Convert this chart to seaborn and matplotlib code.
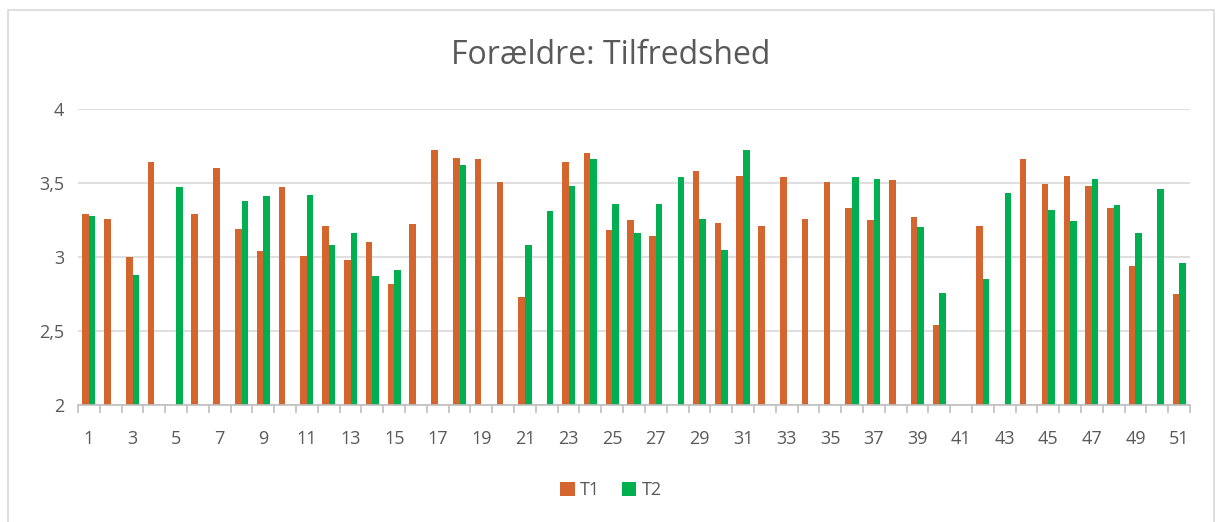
import numpy as np
import pandas as pd
import matplotlib
matplotlib.use("Agg")
from matplotlib import pyplot as plt
from matplotlib.patches import Rectangle
from matplotlib.ticker import FixedLocator
import seaborn as sns

sns.set_style("white")
plt.rcParams['font.family'] = ['Open Sans', 'DejaVu Sans']

nan = np.nan
categories = [str(i) for i in range(1, 52)]
t1 = [3.29, 3.26, 3.00, 3.64, nan, 3.29, 3.60, 3.19, 3.04, 3.47,
      3.01, 3.21, 2.98, 3.10, 2.82, 3.22, 3.72, 3.67, 3.66, 3.51,
      2.73, nan, 3.64, 3.70, 3.18, 3.25, 3.14, nan, 3.58, 3.23,
      3.55, 3.21, 3.54, 3.26, 3.51, 3.33, 3.25, 3.52, 3.27, 2.54,
      nan, 3.21, nan, 3.66, 3.49, 3.55, 3.48, 3.33, 2.94, nan,
      2.75]
t2 = [3.28, nan, 2.88, nan, 3.47, nan, nan, 3.38, 3.41, nan,
      3.42, 3.08, 3.16, 2.87, 2.91, nan, nan, 3.62, nan, nan,
      3.08, 3.31, 3.48, 3.66, 3.36, 3.16, 3.36, 3.54, 3.26, 3.05,
      3.72, nan, nan, nan, nan, 3.54, 3.53, nan, 3.20, 2.76,
      nan, 2.85, 3.43, nan, 3.32, 3.24, 3.53, 3.35, 3.16, 3.46,
      2.96]
series = ["T1", "T2"]
colors = ["#D4652F", "#00B050"]

df = pd.DataFrame({
    "kategori": categories * 2,
    "vaerdi": t1 + t2,
    "serie": ["T1"] * len(categories) + ["T2"] * len(categories),
})

fig = plt.figure(figsize=(12.22, 5.22), dpi=100)
ax = fig.add_axes([78 / 1222, 117 / 522, 1112 / 1222, 296 / 522])

sns.barplot(data=df, x="kategori", y="vaerdi", hue="serie", order=categories,
            hue_order=series, palette=colors, width=0.6, errorbar=None,
            saturation=1, linewidth=0, ax=ax, legend=True)

ax.set_ylim(2, 4)
ax.set_xlim(-0.5, len(categories) - 0.5)
ax.set_yticks([2, 2.5, 3, 3.5, 4])
ax.set_yticklabels(["2", "2,5", "3", "3,5", "4"])
ax.yaxis.grid(True, color="#D9D9D9", linewidth=1.2)
ax.set_axisbelow(True)

# only odd category labels, tick marks between categories
ax.set_xticks(range(0, len(categories), 2))
ax.set_xticklabels(categories[::2])
ax.xaxis.set_minor_locator(FixedLocator(np.arange(-0.5, len(categories), 1)))
ax.tick_params(axis="x", which="major", bottom=True, length=0, pad=18,
               labelsize=13, labelcolor="#595959")
ax.tick_params(axis="x", which="minor", bottom=True, length=6, width=1.2,
               color="#BFBFBF")
ax.tick_params(axis="y", length=0, pad=10, labelsize=13, labelcolor="#595959")
ax.set_xlabel("")
ax.set_ylabel("")

for side in ["top", "right", "left"]:
    ax.spines[side].set_visible(False)
ax.spines["bottom"].set_color("#BFBFBF")
ax.spines["bottom"].set_linewidth(1.2)

fig.text(0.5, 1 - 56 / 522, "Forældre: Tilfredshed", ha="center", va="center",
         fontsize=23, color="#595959")

handles, labels = ax.get_legend_handles_labels()
ax.legend_.remove()
fig.legend(handles, labels, loc="center", bbox_to_anchor=(0.5, 1 - 490 / 522),
           ncol=2, frameon=False, fontsize=13, labelcolor="#595959",
           handlelength=0.8, handleheight=0.8, handletextpad=0.3, columnspacing=1.2)

fig.patches.append(Rectangle((8 / 1222, -0.05), 1206 / 1222, 1 - 10 / 522 + 0.05,
                             transform=fig.transFigure, fill=False,
                             edgecolor="#D9D9D9", linewidth=1.2))

fig.savefig("out.png", dpi=100)
